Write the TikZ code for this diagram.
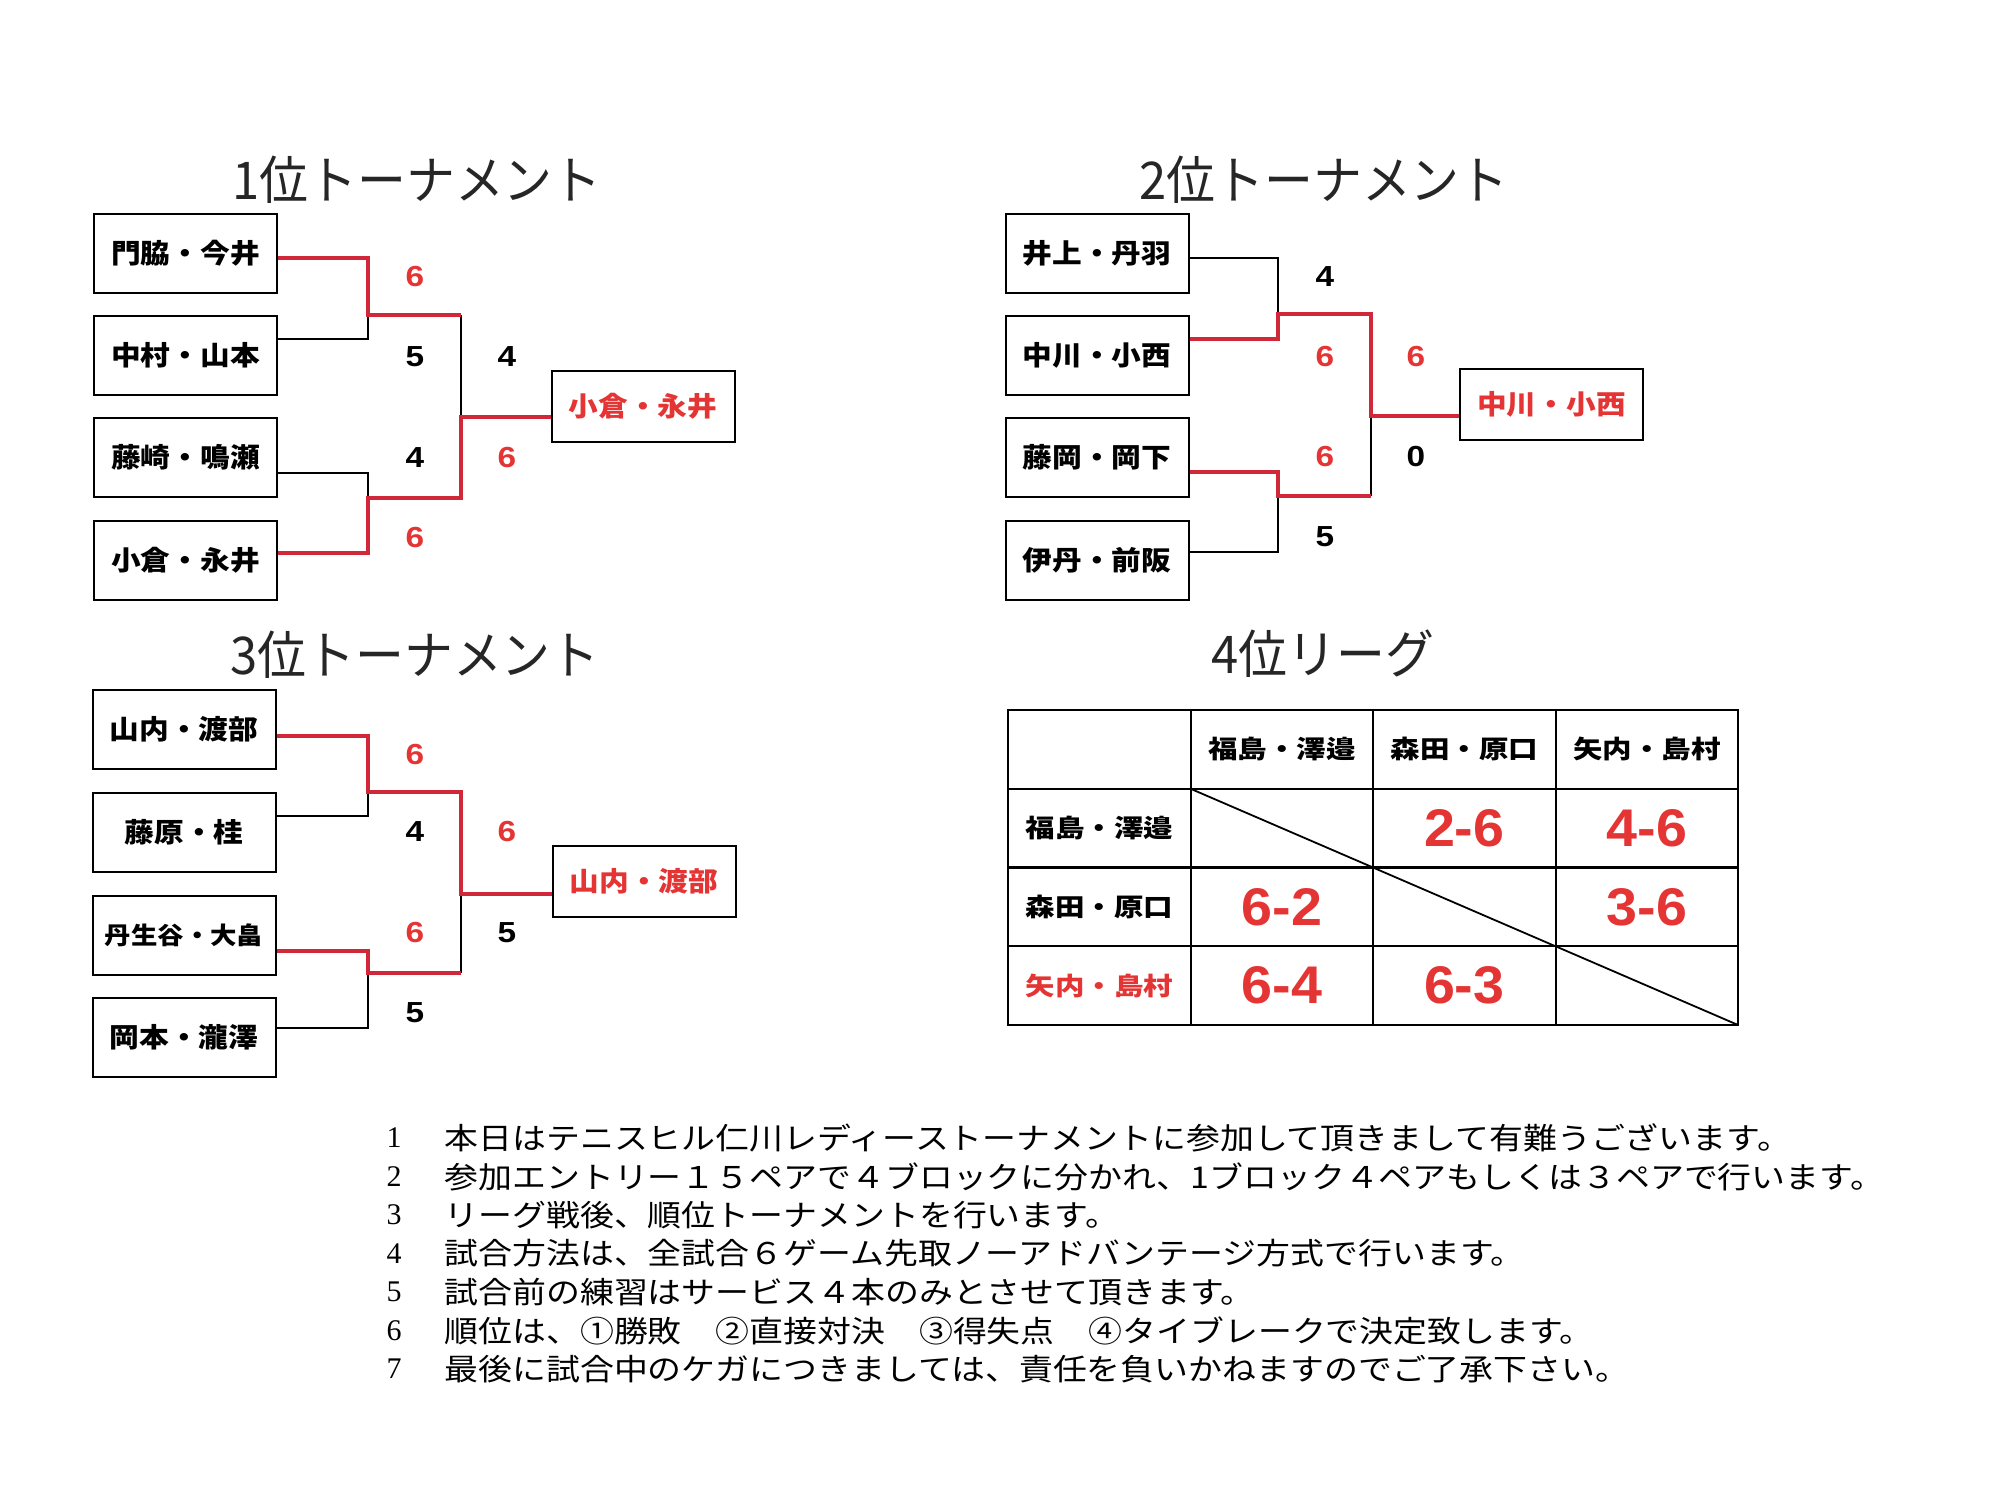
\documentclass[tikz,border=0pt]{standalone}
\usepackage{fontspec}
\usepackage{xcolor}
\setmainfont{Noto Sans CJK JP}
\newfontfamily\titre[FakeStretch=0.94]{Noto Sans CJK JP}
\newfontfamily\nom[FakeStretch=1.1]{Noto Sans CJK JP}
\newfontfamily\nomtab[FakeStretch=1.18]{Noto Sans CJK JP}
\newfontfamily\texte[FakeStretch=1.13]{Noto Sans CJK JP}
\newfontfamily\chiffre[FakeStretch=1.15]{Liberation Sans}
\newfontfamily\grandchiffre[FakeStretch=1.05]{Liberation Sans}
\newfontfamily\numero{Liberation Serif}
\definecolor{rouge}{RGB}{208,40,56}
\definecolor{rougetexte}{RGB}{228,52,52}

\begin{document}
\begin{tikzpicture}[x=1pt, y=-1pt]
	\tikzset{equipe/.style={draw=black, line width=2pt, minimum width=183pt, minimum height=79pt, inner sep=0pt, font=\nom\bfseries\fontsize{27}{27}\selectfont},
		gagnant/.style={equipe, minimum height=71pt, text=rougetexte},
		titre/.style={font=\titre\fontsize{52}{52}\selectfont, text=black!85},
		score/.style={font=\chiffre\bfseries\fontsize{29}{29}\selectfont},
		scorerouge/.style={score, text=rougetexte},
		trait/.style={line width=1.8pt},
		traitrouge/.style={line width=3.6pt, rouge},
		case/.style={draw=black, line width=2pt, minimum width=182.5pt, minimum height=78.75pt, inner sep=0pt, outer sep=0pt, font=\nomtab\bfseries\fontsize{25}{25}\selectfont},
		resultat/.style={case, font=\grandchiffre\bfseries\fontsize{53}{53}\selectfont, text=rougetexte},
		numero/.style={anchor=west, font=\numero\fontsize{30}{30}\selectfont},
		note/.style={anchor=west, font=\texte\fontsize{30}{30}\selectfont}};

	\useasboundingbox (0,0) rectangle (2012,1510);

	% 1位トーナメント
	\node[titre] (t1) at (417,180) {1位トーナメント};
	\node[equipe] (e11) at (185.5,253.5) {門脇・今井};
	\node[equipe] (e12) at (185.5,355) {中村・山本};
	\node[equipe] (e13) at (185.5,457.5) {藤崎・鳴瀬};
	\node[equipe] (e14) at (185.5,560.5) {小倉・永井};
	\node[gagnant] (g1) at (643,406.5) {小倉・永井};

	\coordinate (h11) at (368,258);
	\coordinate (h12) at (368,339);
	\coordinate (j11) at (368,315);
	\coordinate (h13) at (368,473);
	\coordinate (h14) at (368,553);
	\coordinate (j12) at (368,498);
	\coordinate (k11) at (461,315);
	\coordinate (k12) at (461,498);
	\coordinate (f1) at (461,417);

	\draw[trait] (e12.east |- h12) -- (h12) -- (j11);
	\draw[trait] (e13.east |- h13) -- (h13) -- (j12);
	\draw[trait] (k11) -- (f1);
	\draw[traitrouge] (e11.east |- h11) -- (h11) -- (j11) -- (k11);
	\draw[traitrouge] (e14.east |- h14) -- (h14) -- (j12) -- (k12) -- (f1) -- (g1.west |- f1);

	\node[scorerouge] (s11) at (415,277) {6};
	\node[score] (s12) at (415,357) {5};
	\node[score] (s13) at (507,357) {4};
	\node[score] (s14) at (415,458) {4};
	\node[scorerouge] (s15) at (507,458) {6};
	\node[scorerouge] (s16) at (415,538) {6};

	% 2位トーナメント
	\node[titre] (t2) at (1324,180) {2位トーナメント};
	\node[equipe] (e21) at (1097,253) {井上・丹羽};
	\node[equipe] (e22) at (1097,355) {中川・小西};
	\node[equipe] (e23) at (1097,457.5) {藤岡・岡下};
	\node[equipe] (e24) at (1097,560) {伊丹・前阪};
	\node[gagnant] (g2) at (1551.5,404.5) {中川・小西};

	\coordinate (h21) at (1278,258);
	\coordinate (h22) at (1278,339);
	\coordinate (j21) at (1278,314);
	\coordinate (h23) at (1278,472);
	\coordinate (h24) at (1278,552);
	\coordinate (j22) at (1278,496);
	\coordinate (k21) at (1371,314);
	\coordinate (k22) at (1371,496);
	\coordinate (f2) at (1371,416);

	\draw[trait] (e21.east |- h21) -- (h21) -- (j21);
	\draw[trait] (e24.east |- h24) -- (h24) -- (j22);
	\draw[trait] (k22) -- (f2);
	\draw[traitrouge] (e22.east |- h22) -- (h22) -- (j21) -- (k21) -- (f2) -- (g2.west |- f2);
	\draw[traitrouge] (e23.east |- h23) -- (h23) -- (j22) -- (k22);

	\node[score] (s21) at (1325,277) {4};
	\node[scorerouge] (s22) at (1325,357) {6};
	\node[scorerouge] (s23) at (1416,357) {6};
	\node[scorerouge] (s24) at (1325,457) {6};
	\node[score] (s25) at (1416,457) {0};
	\node[score] (s26) at (1325,537) {5};

	% 3位トーナメント
	\node[titre] (t3) at (415,655) {3位トーナメント};
	\node[equipe] (e31) at (184,729.5) {山内・渡部};
	\node[equipe] (e32) at (184,832.5) {藤原・桂};
	\node[equipe, font=\nom\bfseries\fontsize{24}{24}\selectfont] (e33) at (184,935.5) {丹生谷・大畠};
	\node[equipe] (e34) at (184,1037) {岡本・瀧澤};
	\node[gagnant] (g3) at (644,881.5) {山内・渡部};

	\coordinate (h31) at (368,736);
	\coordinate (h32) at (368,816);
	\coordinate (j31) at (368,792);
	\coordinate (h33) at (368,951);
	\coordinate (h34) at (368,1028);
	\coordinate (j32) at (368,973);
	\coordinate (k31) at (461,792);
	\coordinate (k32) at (461,973);
	\coordinate (f3) at (461,894);

	\draw[trait] (e32.east |- h32) -- (h32) -- (j31);
	\draw[trait] (e34.east |- h34) -- (h34) -- (j32);
	\draw[trait] (k32) -- (f3);
	\draw[traitrouge] (e31.east |- h31) -- (h31) -- (j31) -- (k31) -- (f3) -- (g3.west |- f3);
	\draw[traitrouge] (e33.east |- h33) -- (h33) -- (j32) -- (k32);

	\node[scorerouge] (s31) at (415,755) {6};
	\node[score] (s32) at (415,832) {4};
	\node[scorerouge] (s33) at (507,832) {6};
	\node[scorerouge] (s34) at (415,933) {6};
	\node[score] (s35) at (507,933) {5};
	\node[score] (s36) at (415,1013) {5};

	% 4位リーグ
	\node[titre] (t4) at (1323,654) {4位リーグ};
	\node[case] (c00) at (1099.25,749.4) {};
	\node[case] (c01) at (1281.75,749.4) {福島・澤邉};
	\node[case] (c02) at (1464.25,749.4) {森田・原口};
	\node[case] (c03) at (1646.75,749.4) {矢内・島村};
	\node[case] (c10) at (1099.25,828.1) {福島・澤邉};
	\node[case] (c11) at (1281.75,828.1) {};
	\node[resultat] (c12) at (1464.25,828.1) {2-6};
	\node[resultat] (c13) at (1646.75,828.1) {4-6};
	\node[case] (c20) at (1099.25,906.9) {森田・原口};
	\node[resultat] (c21) at (1281.75,906.9) {6-2};
	\node[case] (c22) at (1464.25,906.9) {};
	\node[resultat] (c23) at (1646.75,906.9) {3-6};
	\node[case, text=rougetexte] (c30) at (1099.25,985.6) {矢内・島村};
	\node[resultat] (c31) at (1281.75,985.6) {6-4};
	\node[resultat] (c32) at (1464.25,985.6) {6-3};
	\node[case] (c33) at (1646.75,985.6) {};

	\draw[trait] (c11.north west) -- (c11.south east);
	\draw[trait] (c22.north west) -- (c22.south east);
	\draw[trait] (c33.north west) -- (c33.south east);

	% notes
	\node[numero] (n1) at (383,1138) {1};
	\node[numero] (n2) at (383,1176.5) {2};
	\node[numero] (n3) at (383,1215) {3};
	\node[numero] (n4) at (383,1253.5) {4};
	\node[numero] (n5) at (383,1292) {5};
	\node[numero] (n6) at (383,1330.5) {6};
	\node[numero] (n7) at (383,1369) {7};
	\node[note] (l1) at (441,1138) {本日はテニスヒル仁川レディーストーナメントに参加して頂きまして有難うございます。};
	\node[note] (l2) at (441,1176.5) {参加エントリー１５ペアで４ブロックに分かれ、1ブロック４ペアもしくは３ペアで行います。};
	\node[note] (l3) at (441,1215) {リーグ戦後、順位トーナメントを行います。};
	\node[note] (l4) at (441,1253.5) {試合方法は、全試合６ゲーム先取ノーアドバンテージ方式で行います。};
	\node[note] (l5) at (441,1292) {試合前の練習はサービス４本のみとさせて頂きます。};
	\node[note] (l6) at (441,1330.5) {順位は、①勝敗　②直接対決　③得失点　④タイブレークで決定致します。};
	\node[note] (l7) at (441,1369) {最後に試合中のケガにつきましては、責任を負いかねますのでご了承下さい。};
\end{tikzpicture}
\end{document}
